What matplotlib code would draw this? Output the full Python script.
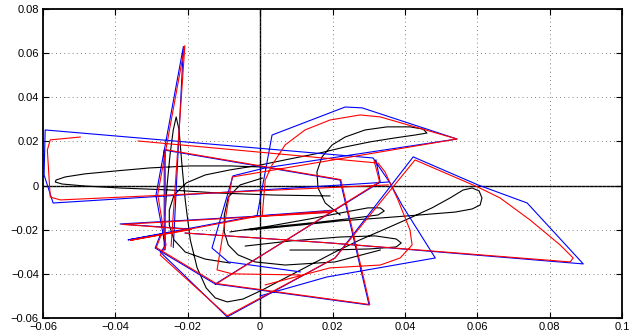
import numpy as np
import matplotlib
matplotlib.use("Agg")
import matplotlib.pyplot as plt
from matplotlib.ticker import FixedLocator, FixedFormatter

N = np.nan
# ---- data (x, y pairs, pieces separated by NaN) ----
blue_x = [0.0354, -0.0572, -0.0597, -0.0594, 0.0312, 0.0359, 0.0392, 0.0484, 0.0185, 0.0000, N,
          -0.0008, 0.0033, 0.0235, 0.0282, 0.0544, 0.0014, -0.0075, -0.0133, -0.0088, 0.0111, N,
          -0.0240, -0.0212, -0.0288, -0.0262, -0.0276, -0.0091, 0.0207, 0.0423, 0.0602, 0.0738, 0.0893, 0.0193, -0.0207, N,
          -0.0265, -0.0265, 0.0221, 0.0301, -0.0124, -0.0290, -0.0276, N,
          0.0193, -0.0387, -0.0193, -0.0365, -0.0014, 0.0207, N,
          -0.0124, 0.0332, 0.0320]
blue_y = [0.0016, -0.0079, 0.0048, 0.0252, 0.0125, 0.0012, -0.0088, -0.0328, -0.0414, -0.0500, N,
          -0.0133, 0.0229, 0.0356, 0.0352, 0.0211, 0.0080, 0.0044, -0.0283, -0.0346, -0.0391, N,
          -0.0280, 0.0630, -0.0045, -0.0275, -0.0301, -0.0595, -0.0328, 0.0130, 0.0003, -0.0079, -0.0355, -0.0260, -0.0215, N,
          -0.0292, 0.0161, 0.0025, -0.0541, -0.0446, -0.0283, -0.0224, N,
          -0.0120, -0.0174, -0.0197, -0.0246, -0.0138, -0.0111, N,
          -0.0446, 0.0016, 0.0116]

red_x = [0.0354, -0.0552, -0.0580, -0.0588, -0.0580, -0.0497, N,
         -0.0337, 0.0326, 0.0345, 0.0381, 0.0414, 0.0420, 0.0387, 0.0332, 0.0193, 0.0014, N,
         0.0006, 0.0014, 0.0033, 0.0069, 0.0124, 0.0193, 0.0276, 0.0332, 0.0544, -0.0077, -0.0119, -0.0077, 0.0111, N,
         -0.0246, -0.0208, -0.0283, -0.0260, -0.0276, -0.0091, 0.0207, 0.0428, 0.0602, 0.0663, 0.0746, 0.0829, 0.0865, 0.0857, 0.0193, -0.0207, N,
         -0.0262, -0.0262, 0.0223, 0.0303, -0.0121, -0.0287, -0.0273, N,
         0.0190, -0.0380, -0.0190, -0.0358, -0.0010, 0.0210, N,
         -0.0120, 0.0330, 0.0315]
red_y = [0.0003, -0.0065, -0.0052, 0.0161, 0.0207, 0.0220, N,
         0.0202, 0.0102, 0.0062, -0.0065, -0.0201, -0.0269, -0.0328, -0.0360, -0.0373, -0.0450, N,
         -0.0133, 0.0025, 0.0093, 0.0184, 0.0252, 0.0297, 0.0320, 0.0311, 0.0211, 0.0039, -0.0382, -0.0400, -0.0405, N,
         -0.0275, 0.0634, -0.0040, -0.0270, -0.0315, -0.0590, -0.0328, 0.0116, -0.0007, -0.0056, -0.0156, -0.0269, -0.0328, -0.0346, -0.0260, -0.0215, N,
         -0.0290, 0.0163, 0.0027, -0.0539, -0.0444, -0.0281, -0.0222, N,
         -0.0122, -0.0176, -0.0199, -0.0248, -0.0140, -0.0113, N,
         -0.0444, 0.0018, 0.0113]

black_x = [0.0006, -0.0083, -0.0193, -0.0304, -0.0401, -0.0484, -0.0539, -0.0564, -0.0566, -0.0547, -0.0484, -0.0387, -0.0249, -0.0111, 0.0041, 0.0193, N,
           0.0221, 0.0180, 0.0160, 0.0157, 0.0171, 0.0199, 0.0235, 0.0290, 0.0351, 0.0414, 0.0450, 0.0461, 0.0428, 0.0373, 0.0304, 0.0235, 0.0166, 0.0083, 0.0000, -0.0083, -0.0152, -0.0204, -0.0238, -0.0251, -0.0251, -0.0238, -0.0207, -0.0152, -0.0083, N,
           -0.0263, -0.0257, -0.0249, -0.0240, -0.0232, -0.0224, -0.0216, -0.0207, -0.0193, -0.0174, -0.0149, -0.0124, -0.0091, -0.0047, 0.0006, 0.0069, 0.0138, 0.0207, 0.0276, 0.0345, 0.0414, 0.0475, 0.0525, 0.0561, 0.0586, 0.0605, 0.0613, 0.0608, 0.0586, 0.0539, 0.0442, 0.0332, 0.0221, 0.0111, -0.0028, N,
           0.0006, -0.0055, -0.0088, -0.0099, -0.0099, -0.0088, -0.0061, -0.0014, 0.0069, 0.0207, 0.0332, N,
           -0.0083, 0.0028, 0.0138, 0.0235, 0.0298, 0.0332, 0.0343, 0.0326, 0.0262, 0.0166, 0.0055, -0.0041, N,
           -0.0041, 0.0083, 0.0221, 0.0318, 0.0376, 0.0390, 0.0376, 0.0304, 0.0193, 0.0083]
black_y = [0.0084, 0.0089, 0.0089, 0.0080, 0.0066, 0.0053, 0.0039, 0.0025, 0.0016, 0.0007, -0.0002, -0.0011, -0.0020, -0.0034, -0.0043, -0.0047, N,
           -0.0133, -0.0079, -0.0011, 0.0062, 0.0130, 0.0184, 0.0220, 0.0252, 0.0266, 0.0266, 0.0256, 0.0238, 0.0229, 0.0216, 0.0198, 0.0175, 0.0148, 0.0121, 0.0093, 0.0071, 0.0048, 0.0012, -0.0043, -0.0111, -0.0179, -0.0246, -0.0301, -0.0333, -0.0351, N,
           -0.0133, 0.0003, 0.0139, 0.0252, 0.0311, 0.0252, 0.0093, -0.0065, -0.0246, -0.0373, -0.0464, -0.0509, -0.0527, -0.0514, -0.0473, -0.0419, -0.0360, -0.0301, -0.0246, -0.0197, -0.0147, -0.0101, -0.0056, -0.0020, -0.0011, -0.0024, -0.0056, -0.0088, -0.0106, -0.0120, -0.0133, -0.0147, -0.0160, -0.0179, -0.0201, N,
           0.0034, 0.0003, -0.0052, -0.0133, -0.0210, -0.0269, -0.0314, -0.0346, -0.0360, -0.0346, -0.0292, N,
           -0.0210, -0.0183, -0.0151, -0.0120, -0.0101, -0.0101, -0.0115, -0.0133, -0.0147, -0.0165, -0.0183, -0.0201, N,
           -0.0274, -0.0251, -0.0233, -0.0228, -0.0242, -0.0260, -0.0278, -0.0287, -0.0292, -0.0292]

x_ticks = [-0.06, -0.04, -0.02, 0, 0.02, 0.04, 0.06, 0.08, 0.1]
x_labels = ['\u22120.06', '\u22120.04', '\u22120.02', '0', '0.02', '0.04', '0.06', '0.08', '0.1']
y_ticks = [-0.06, -0.04, -0.02, 0, 0.02, 0.04, 0.06, 0.08]
y_labels = ['\u22120.06', '\u22120.04', '\u22120.02', '0', '0.02', '0.04', '0.06', '0.08']

plt.rcParams['font.family'] = ['Liberation Sans', 'DejaVu Sans']
fig = plt.figure(figsize=(6.3, 3.32), dpi=100)
ax = fig.add_axes([43/630, 14/332, 579/630, 309/332])

ax.axhline(0, color='k', lw=1.0, zorder=1)
ax.axvline(0, color='k', lw=1.0, zorder=1)
ax.plot(black_x, black_y, color='k', lw=0.8, zorder=2)
ax.plot(blue_x, blue_y, color='#0000ff', lw=0.8, zorder=3)
ax.plot(red_x, red_y, color='#ff0000', lw=0.8, zorder=4)

ax.set_xlim(-0.06, 0.1)
ax.set_ylim(-0.06, 0.08)
ax.xaxis.set_major_locator(FixedLocator(x_ticks))
ax.xaxis.set_major_formatter(FixedFormatter(x_labels))
ax.yaxis.set_major_locator(FixedLocator(y_ticks))
ax.yaxis.set_major_formatter(FixedFormatter(y_labels))
ax.tick_params(direction='in', length=4, width=0.8, top=True, right=True, labelsize=8, pad=3)
ax.grid(True, color='0.35', linestyle=(0, (1, 4)), lw=0.6)
for s in ax.spines.values():
    s.set_linewidth(1.3)
fig.savefig('out.png', dpi=100)
